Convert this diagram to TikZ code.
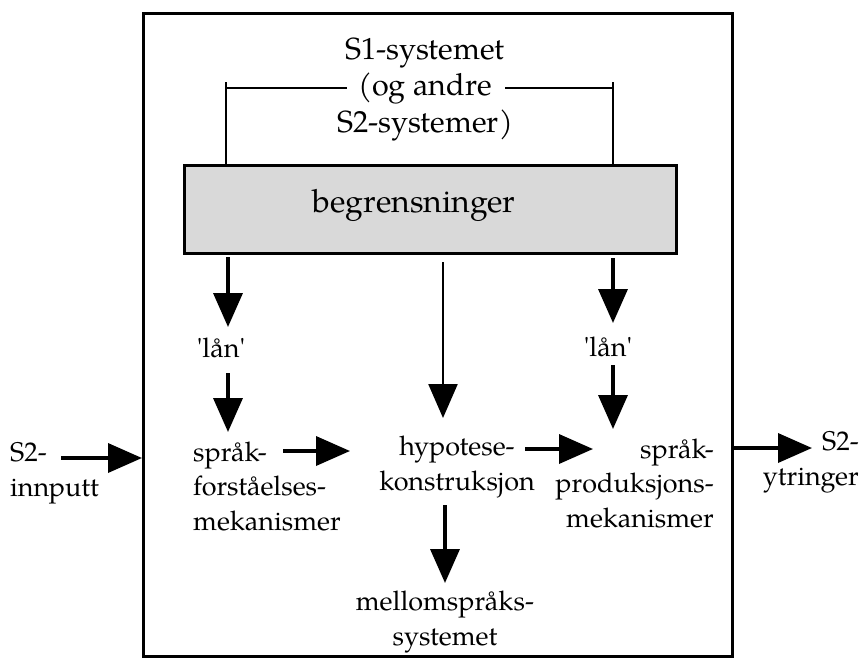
\documentclass[tikz,border=0pt]{standalone}
\usepackage{fontspec}
\setmainfont{TeX Gyre Pagella}
\usetikzlibrary{arrows.meta}
\definecolor{shade}{rgb}{0.85,0.85,0.85}
\tikzset{
  lbl/.style={inner sep=0pt, font=\fontsize{27}{34.5}\selectfont},
  big/.style={inner sep=0pt, font=\fontsize{30.5}{36.5}\selectfont, align=center},
  flow/.style={line width=3.6pt, -{Triangle[length=34pt,width=29pt]}},
  thinflow/.style={line width=2.4pt, -{Triangle[length=34pt,width=29pt]}},
  frameline/.style={line width=3pt},
  bracket/.style={line width=2.8pt},
}
\newcommand{\sq}{\textquotesingle}
\begin{document}
\begin{tikzpicture}[x=1pt,y=-1pt]
\useasboundingbox (0,0) rectangle (863,657);

% outer system frame
\node[draw, frameline, minimum width=589pt, minimum height=643pt, anchor=north west, inner sep=0pt] (frame) at (142,12) {};

% S1 systems and the bracket joining them to the constraints
\node[big] (s1) at (425,89) {S1-systemet\\(og andre\\S2-systemer)};
\node[draw, line width=3pt, fill=shade, minimum width=492pt, minimum height=88pt, anchor=north west, inner sep=0pt] (limits) at (183,164) {};
\node[inner sep=0pt, font=\fontsize{32}{36}\selectfont] (limtext) at (414,205) {begrensninger};

\coordinate (bl) at (226,88);
\coordinate (br) at (613,88);
\coordinate (blm) at (347,88);
\coordinate (brm) at (505,88);
\draw[bracket] (limits.north -| bl) -- (bl) -- (blm);
\draw[bracket] (brm) -- (br) -- (limits.north -| br);
\draw[bracket] (226,82) -- (bl);
\draw[bracket] (613,82) -- (br);

% borrowing labels
\node[lbl] (lan1) at (221,348) {\sq lån\sq};
\node[lbl] (lan2) at (608,347) {\sq lån\sq};

% processing components
\node[lbl, align=left, anchor=west] (comp) at (193,486) {språk-\\forståelses-\\mekanismer};
\node[lbl, align=center] (hyp) at (457,467) {hypotese-\\konstruksjon};
\node[lbl, align=right, anchor=east] (prod) at (714,483) {språk-\\produksjons-\\mekanismer};
\node[lbl, align=center] (inter) at (445,622) {mellomspråks-\\systemet};

% input and output
\node[lbl, align=left, anchor=west] (inp) at (10,473) {S2-\\innputt};
\node[lbl, align=right, anchor=east] (outp) at (859,462) {S2-\\ytringer};

% connector end points
\coordinate (l1a) at (228,257);
\coordinate (l1b) at (228,327);
\coordinate (l2a) at (228,373);
\coordinate (l2b) at (228,432);
\coordinate (r1a) at (613,258);
\coordinate (r1b) at (613,323);
\coordinate (r2a) at (613,365);
\coordinate (r2b) at (613,429);
\coordinate (ma) at (443,262);
\coordinate (mb) at (443,418);
\coordinate (ha) at (283,451);
\coordinate (hb) at (350,451);
\coordinate (pa) at (525,449);
\coordinate (pb) at (593,449);
\coordinate (ia) at (61,458);
\coordinate (ib) at (142,458);
\coordinate (oa) at (733,448);
\coordinate (ob) at (812,448);
\coordinate (da) at (445,505);
\coordinate (db) at (445,583);

% arrows
\draw[flow] (l1a) -- (l1b);
\draw[flow] (l2a) -- (l2b);
\draw[flow] (r1a) -- (r1b);
\draw[flow] (r2a) -- (r2b);
\draw[thinflow] (ma) -- (mb);
\draw[flow] (ha) -- (hb);
\draw[flow] (pa) -- (pb);
\draw[flow] (ia) -- (ib);
\draw[flow] (oa) -- (ob);
\draw[flow] (da) -- (db);
\end{tikzpicture}
\end{document}
